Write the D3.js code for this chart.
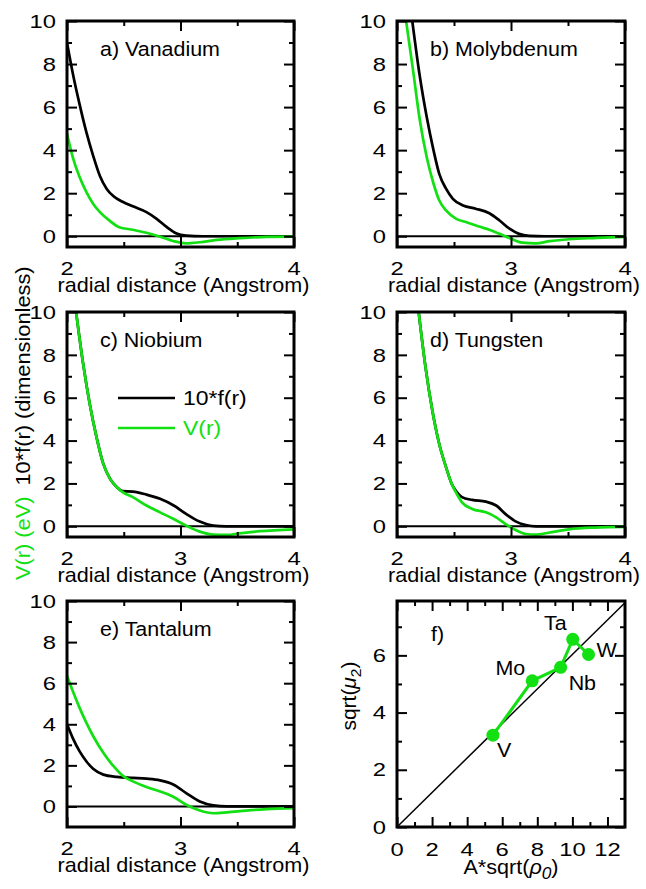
<!DOCTYPE html>
<html>
<head>
<meta charset="utf-8">
<script src="https://cdn.jsdelivr.net/npm/d3@7"></script>
<style>
  body { margin: 0; background: #fff; }
  text { font-family: "Liberation Sans", Arial, Helvetica, sans-serif; }
</style>
</head>
<body>
<svg id="fig" width="646" height="889"></svg>
<script>
// ---- pair functions 10*f(r) and V(r), points as [r (Angstrom), value] ----
const vanadiumF = [[2.0,9.0],[2.05,7.6],[2.11,6.15],[2.17,4.85],[2.23,3.75],[2.29,2.8],[2.35,2.2],[2.41,1.86],[2.49,1.6],[2.58,1.39],[2.70,1.12],[2.79,0.81],[2.88,0.42],[2.96,0.14],[3.05,0.03],[3.2,0],[4.0,0]];
const vanadiumV = [[2.0,4.78],[2.05,3.69],[2.11,2.76],[2.17,2.06],[2.23,1.51],[2.29,1.12],[2.38,0.70],[2.46,0.42],[2.58,0.30],[2.70,0.16],[2.82,-0.02],[2.94,-0.23],[3.05,-0.33],[3.17,-0.28],[3.32,-0.17],[3.52,-0.09],[3.76,-0.03],[4.0,-0.02]];

const molybdenumF = [[2.134,10.0],[2.2,7.43],[2.26,5.56],[2.32,4.0],[2.37,2.91],[2.43,2.21],[2.49,1.74],[2.58,1.43],[2.69,1.28],[2.81,1.07],[2.90,0.73],[2.99,0.34],[3.07,0.11],[3.16,0.02],[3.3,0],[4.0,0]];
const molybdenumV = [[2.08,10.0],[2.14,7.74],[2.2,5.4],[2.26,3.69],[2.32,2.45],[2.37,1.67],[2.43,1.2],[2.52,0.81],[2.61,0.65],[2.72,0.45],[2.81,0.30],[2.90,0.11],[2.99,-0.09],[3.10,-0.30],[3.22,-0.33],[3.34,-0.23],[3.51,-0.14],[3.75,-0.08],[4.0,-0.03]];

const niobiumF = [[2.08,10.0],[2.14,7.66],[2.2,5.72],[2.26,4.16],[2.32,2.91],[2.38,2.21],[2.44,1.82],[2.49,1.64],[2.58,1.62],[2.70,1.48],[2.82,1.28],[2.94,0.97],[3.05,0.58],[3.17,0.22],[3.29,0.03],[3.4,0],[4.0,0]];
const niobiumV = [[2.08,10.0],[2.14,7.66],[2.2,5.72],[2.26,4.16],[2.32,2.91],[2.38,2.21],[2.44,1.82],[2.49,1.59],[2.58,1.36],[2.70,0.97],[2.82,0.65],[2.94,0.34],[3.05,0.03],[3.17,-0.25],[3.29,-0.39],[3.41,-0.40],[3.52,-0.33],[3.70,-0.23],[4.0,-0.14]];

const tungstenF = [[2.19,10.0],[2.25,7.43],[2.31,5.4],[2.37,3.85],[2.43,2.76],[2.48,1.98],[2.51,1.70],[2.57,1.36],[2.66,1.23],[2.78,1.15],[2.87,0.97],[2.95,0.58],[3.04,0.23],[3.13,0.06],[3.22,0],[4.0,0]];
const tungstenV = [[2.19,10.0],[2.25,7.43],[2.31,5.4],[2.37,3.85],[2.43,2.76],[2.48,1.98],[2.51,1.65],[2.57,1.12],[2.66,0.81],[2.78,0.65],[2.87,0.42],[2.95,0.11],[3.04,-0.17],[3.13,-0.36],[3.22,-0.39],[3.33,-0.30],[3.51,-0.14],[3.74,-0.06],[4.0,-0.03]];

const tantalumF = [[2.0,4.0],[2.05,3.34],[2.11,2.69],[2.17,2.20],[2.23,1.83],[2.32,1.55],[2.44,1.44],[2.58,1.39],[2.70,1.35],[2.82,1.27],[2.94,1.06],[3.05,0.65],[3.17,0.24],[3.29,0.05],[3.41,0],[4.0,0]];
const tantalumV = [[2.0,6.36],[2.05,5.63],[2.11,4.81],[2.17,4.08],[2.23,3.43],[2.32,2.61],[2.41,1.96],[2.49,1.50],[2.58,1.22],[2.70,0.95],[2.82,0.73],[2.94,0.46],[3.05,0.08],[3.17,-0.20],[3.29,-0.33],[3.41,-0.29],[3.58,-0.20],[3.76,-0.13],[4.0,-0.08]];

// ---- panel f: second moment vs. scaled density ----
const elements   = ["V", "Mo", "Nb", "Ta", "W"];
const aSqrtRho0  = [5.47, 7.71, 9.33, 10.02, 10.92];
const sqrtMu2    = [3.21, 5.11, 5.58, 6.56, 6.03];
const unitLine   = [[0, 0], [13, 7.84]];

// ---- tick values ----
const rMajor = [2, 3, 4];
const rMinor = [2.5, 3.5];
const rLabels = ["2", "3", "4"];
const vMajor = [0, 2, 4, 6, 8, 10];
const vMinor = [1, 3, 5, 7, 9];
const fxMajor = [0, 2, 4, 6, 8, 10, 12];
const fxMinor = [1, 3, 5, 7, 9, 11];
const fyMajor = [0, 2, 4, 6];
const fyMinor = [1, 3, 5, 7];

const GREEN = "#12e012";
const svg = d3.select("#fig");

const colX = [[67, 294], [397, 625]];
const rowY = [[21, 247], [312, 537], [601, 827]];

const panels = [
  { id: "a", title: "a) Vanadium",   f: vanadiumF,   v: vanadiumV,   col: 0, row: 0, vMin: -0.5 },
  { id: "b", title: "b) Molybdenum", f: molybdenumF, v: molybdenumV, col: 1, row: 0, vMin: -0.5 },
  { id: "c", title: "c) Niobium",    f: niobiumF,    v: niobiumV,    col: 0, row: 1, vMin: -0.5 },
  { id: "d", title: "d) Tungsten",   f: tungstenF,   v: tungstenV,   col: 1, row: 1, vMin: -0.5 },
  { id: "e", title: "e) Tantalum",   f: tantalumF,   v: tantalumV,   col: 0, row: 2, vMin: -1 }
];

// text helper: the typeface of the plot is a little wider than Liberation Sans
function putText(parent, x, y, str, o = {}) {
  const tr = `translate(${x},${y})` + (o.rotate ? ` rotate(${o.rotate})` : "") + ` scale(${o.sx || 1.1},1)`;
  const t = parent.append("g").attr("transform", tr)
    .append("text")
    .attr("text-anchor", o.anchor || "start")
    .attr("font-size", o.size || 20)
    .attr("fill", o.fill || "#000");
  if (o.dy) t.attr("dy", o.dy);
  if (str !== null) t.text(str);
  return t;
}

// inward ticks on all four sides
function frameTicks(g, x, y, w, h, xMaj, xMin, yMaj, yMin) {
  const mk = (axis, vals, len) => axis.tickValues(vals).tickSizeInner(-len).tickSizeOuter(0).tickFormat("");
  const add = (axis, tr) => {
    const a = g.append("g").attr("transform", tr).call(axis);
    a.select(".domain").remove();
    a.selectAll("line").attr("stroke", "#000").attr("stroke-width", 2);
  };
  add(mk(d3.axisBottom(x), xMaj, 10), `translate(0,${h})`);
  add(mk(d3.axisBottom(x), xMin, 5), `translate(0,${h})`);
  add(mk(d3.axisTop(x), xMaj, 10), `translate(0,0)`);
  add(mk(d3.axisTop(x), xMin, 5), `translate(0,0)`);
  add(mk(d3.axisLeft(y), yMaj, 10), `translate(0,0)`);
  add(mk(d3.axisLeft(y), yMin, 5), `translate(0,0)`);
  add(mk(d3.axisRight(y), yMaj, 10), `translate(${w},0)`);
  add(mk(d3.axisRight(y), yMin, 5), `translate(${w},0)`);
}

function frameRect(g, w, h) {
  g.append("rect").attr("width", w).attr("height", h)
    .attr("fill", "none").attr("stroke", "#000").attr("stroke-width", 3);
}

// ---- panels a-e ----
panels.forEach(p => {
  const [x0, x1] = colX[p.col];
  const [y0, y1] = rowY[p.row];
  const w = x1 - x0, h = y1 - y0;
  const g = svg.append("g").attr("transform", `translate(${x0},${y0})`);
  const x = d3.scaleLinear().domain([2, 4]).range([0, w]);
  const y = d3.scaleLinear().domain([p.vMin, 10]).range([h, 0]);

  const clipId = "clip-" + p.id;
  g.append("clipPath").attr("id", clipId).append("rect").attr("width", w).attr("height", h);
  const plot = g.append("g").attr("clip-path", `url(#${clipId})`);

  plot.append("line")
    .attr("x1", 0).attr("x2", w).attr("y1", y(0)).attr("y2", y(0))
    .attr("stroke", "#000").attr("stroke-width", 2);

  const line = d3.line().x(d => x(d[0])).y(d => y(d[1])).curve(d3.curveMonotoneX);
  plot.append("path").datum(p.f).attr("d", line)
    .attr("fill", "none").attr("stroke", "#000").attr("stroke-width", 2.7);
  plot.append("path").datum(p.v).attr("d", line)
    .attr("fill", "none").attr("stroke", GREEN).attr("stroke-width", 2.7);

  frameRect(g, w, h);
  frameTicks(g, x, y, w, h, rMajor, rMinor, vMajor, vMinor);

  vMajor.forEach(v => putText(g, -11, y(v), String(v), { anchor: "end", size: 19, sx: 1.25, dy: "0.35em" }));
  rMajor.forEach((r, i) => putText(g, x(r), h + 28, rLabels[i], { anchor: "middle", size: 19, sx: 1.25 }));
  putText(g, w / 2 + 3, h + 45, "radial distance (Angstrom)", { anchor: "middle", size: 20, sx: 1.08 });
  putText(g, 33, 35, p.title, { size: 19.5, sx: 1.1 });

  if (p.id === "c") {
    // legend
    const items = [{ label: "10*f(r)", color: "#000", dy: 86 }, { label: "V(r)", color: GREEN, dy: 116 }];
    items.forEach(it => {
      g.append("line").attr("x1", 51).attr("x2", 108).attr("y1", it.dy).attr("y2", it.dy)
        .attr("stroke", it.color).attr("stroke-width", 2.7);
      putText(g, 116, it.dy + 7, it.label, { size: 20.5, sx: 1.12, fill: it.color });
    });
  }
});

// shared y-axis title for the radial panels
{
  const t = putText(svg, 30, 580, null, { rotate: -90, size: 20, sx: 1.09 });
  t.append("tspan").attr("fill", GREEN).text("V(r) (eV)");
  t.append("tspan").attr("fill", "#000").attr("dx", 10).text("10*f(r) (dimensionless)");
}

// ---- panel f ----
{
  const [x0, x1] = colX[1];
  const [y0, y1] = rowY[2];
  const w = x1 - x0, h = y1 - y0;
  const g = svg.append("g").attr("transform", `translate(${x0},${y0})`);
  const x = d3.scaleLinear().domain([0, 13]).range([0, w]);
  const y = d3.scaleLinear().domain([0, 7.9]).range([h, 0]);

  g.append("path").datum(unitLine)
    .attr("d", d3.line().x(d => x(d[0])).y(d => y(d[1])))
    .attr("stroke", "#000").attr("stroke-width", 1.5).attr("fill", "none");

  const pts = elements.map((e, i) => ({ name: e, a: aSqrtRho0[i], m: sqrtMu2[i] }));
  g.append("path").datum(pts)
    .attr("d", d3.line().x(d => x(d.a)).y(d => y(d.m)))
    .attr("stroke", GREEN).attr("stroke-width", 3).attr("fill", "none");
  g.selectAll("circle.pt").data(pts).join("circle")
    .attr("class", "pt")
    .attr("cx", d => x(d.a)).attr("cy", d => y(d.m)).attr("r", 6.5)
    .attr("fill", GREEN);

  // element label placement around each marker
  const labelPos = {
    V:  { dx: 4,  dy: 22, anchor: "start" },
    Mo: { dx: -7, dy: -6, anchor: "end" },
    Nb: { dx: 8,  dy: 23, anchor: "start" },
    Ta: { dx: -6, dy: -9, anchor: "end" },
    W:  { dx: 8,  dy: 3,  anchor: "start" }
  };
  pts.forEach(d => {
    const lp = labelPos[d.name];
    putText(g, x(d.a) + lp.dx, y(d.m) + lp.dy, d.name, { anchor: lp.anchor, size: 19.5, sx: 1.1 });
  });

  frameRect(g, w, h);
  frameTicks(g, x, y, w, h, fxMajor, fxMinor, fyMajor, fyMinor);

  fyMajor.forEach(v => putText(g, -11, y(v), String(v), { anchor: "end", size: 19, sx: 1.25, dy: "0.35em" }));
  fxMajor.forEach(v => putText(g, x(v), h + 29, String(v), { anchor: "middle", size: 19, sx: 1.25 }));

  putText(g, 34, 40, "f)", { size: 19.5, sx: 1.1 });

  const xt = putText(g, w / 2, h + 47, null, { anchor: "middle", size: 20, sx: 1.08 });
  xt.append("tspan").text("A*sqrt(");
  xt.append("tspan").attr("font-style", "italic").text("\u03C1");
  xt.append("tspan").attr("font-style", "italic").attr("font-size", 16).attr("dy", 5).text("0");
  xt.append("tspan").attr("dy", -5).text(")");

  const yt = putText(g, -41, h / 2 - 18, null, { anchor: "middle", rotate: -90, size: 20, sx: 1.05 });
  yt.append("tspan").text("sqrt(");
  yt.append("tspan").attr("font-style", "italic").text("\u03BC");
  yt.append("tspan").attr("font-size", 15).attr("dy", 5).text("2");
  yt.append("tspan").attr("dy", -5).text(")");
}
</script>
</body>
</html>
